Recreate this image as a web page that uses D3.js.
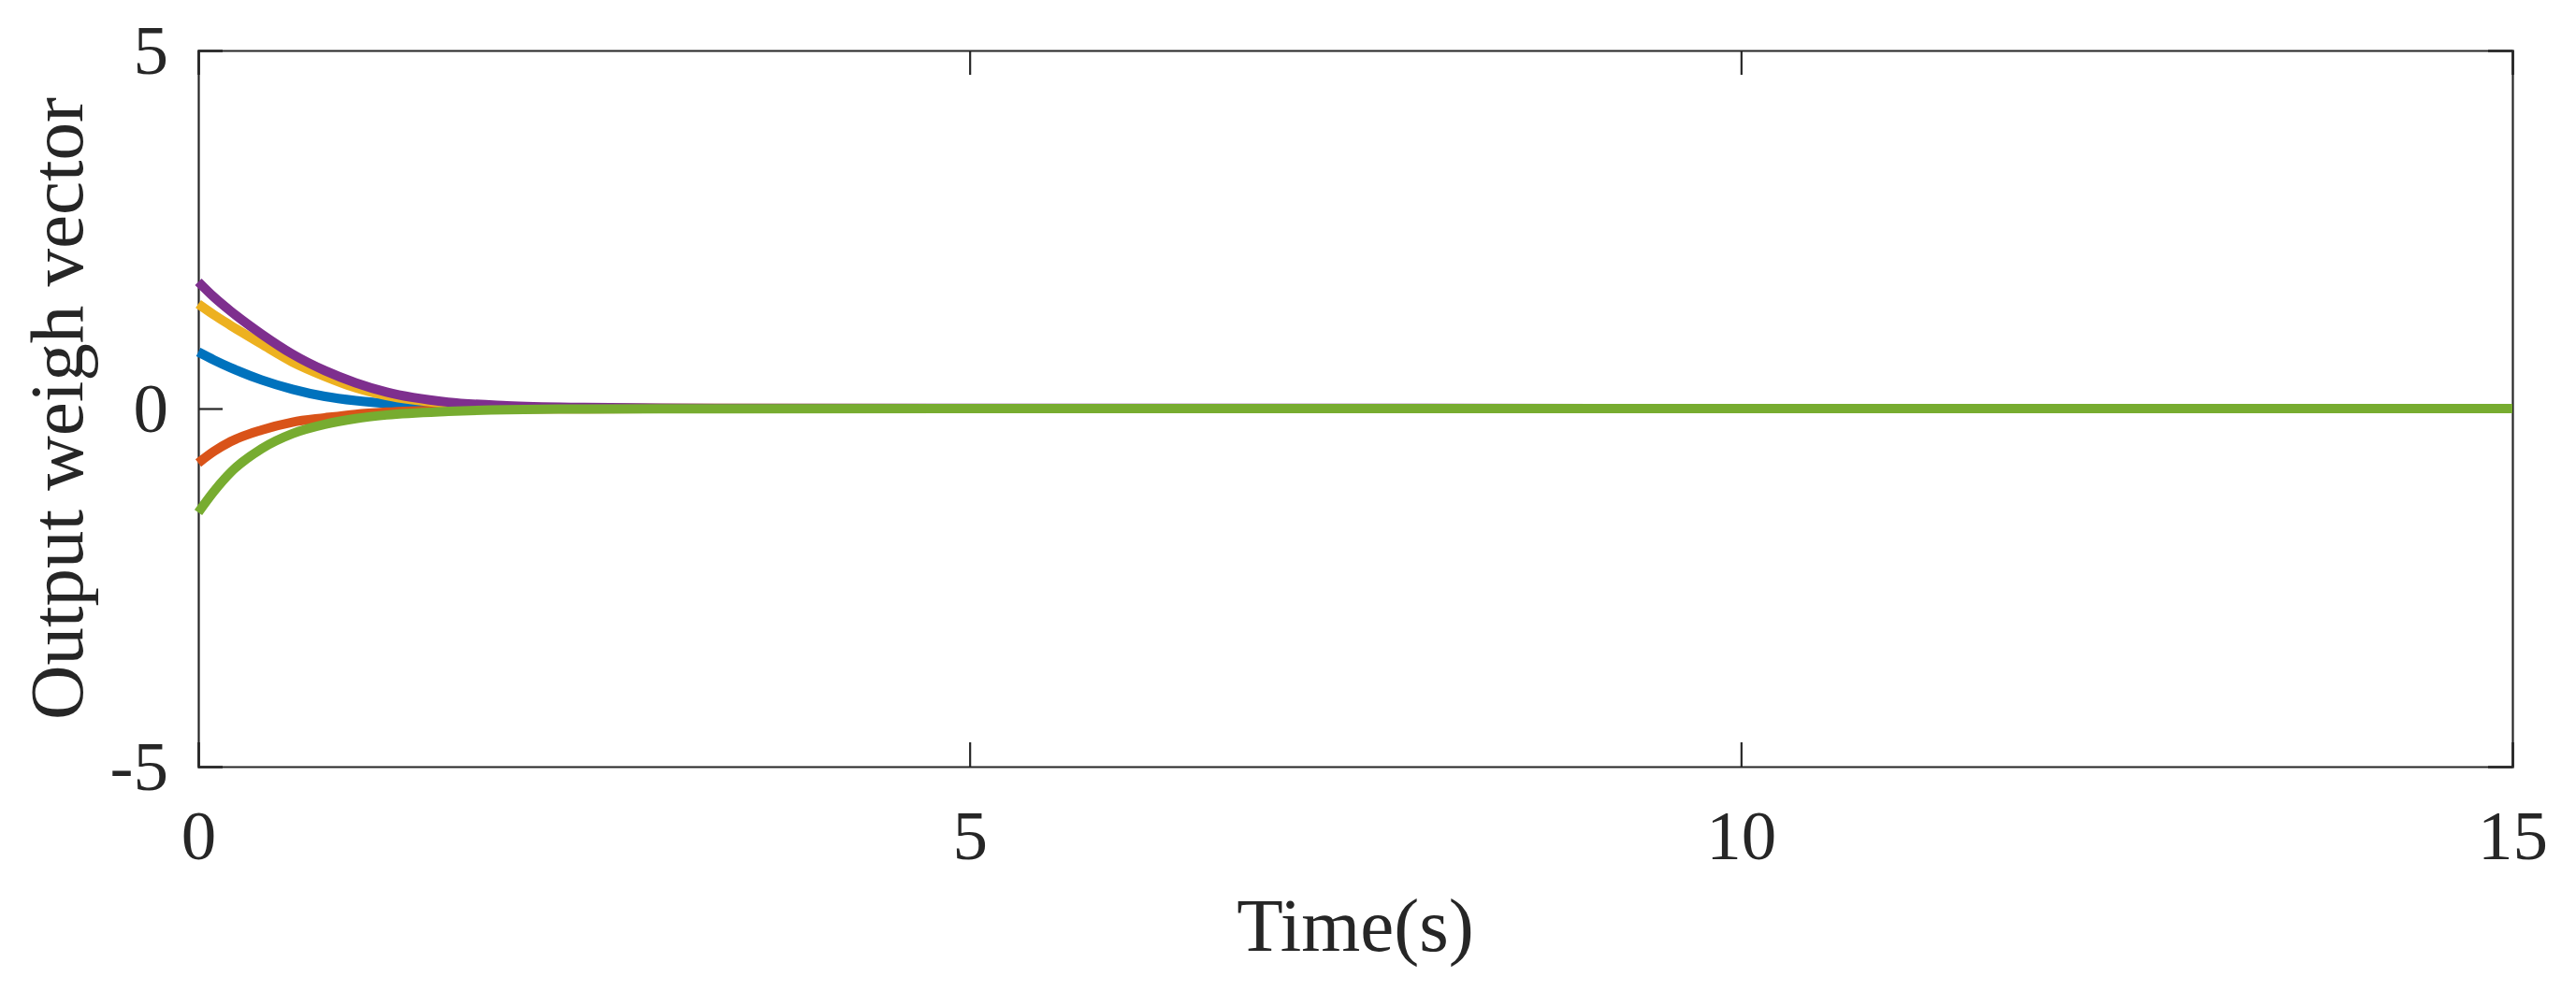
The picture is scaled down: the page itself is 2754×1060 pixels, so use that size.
<!DOCTYPE html>
<html>
<head>
<meta charset="utf-8">
<script src="https://cdn.jsdelivr.net/npm/d3@7"></script>
<style>
  body { margin: 0; background: #fff; }
  svg { display: block; font-family: "Liberation Serif", "Times New Roman", serif; }
</style>
</head>
<body>
<svg></svg>
<script>
const size = {w: 2754, h: 1060};
const margin = {t: 54, r: 68, b: 240, l: 212};
const svg = d3.select('svg').attr('width', size.w).attr('height', size.h);

const time = [0, 0.1, 0.21, 0.41, 0.61, 0.82, 1.02, 1.22, 1.62, 2.0, 2.5, 3.0, 15];
const w1 = [0.79, 0.68, 0.57, 0.40, 0.27, 0.17, 0.11, 0.07, 0.03, 0.012, 0.004, 0.001, 0];
const w2 = [-0.76, -0.60, -0.46, -0.30, -0.19, -0.13, -0.08, -0.05, -0.02, -0.008, -0.003, -0.001, 0];
const w3 = [1.46, 1.31, 1.16, 0.90, 0.65, 0.45, 0.29, 0.18, 0.07, 0.025, 0.008, 0.002, 0];
const w4 = [1.77, 1.56, 1.36, 1.04, 0.76, 0.53, 0.36, 0.23, 0.09, 0.04, 0.015, 0.005, 0];
const w5 = [-1.45, -1.16, -0.89, -0.56, -0.35, -0.22, -0.14, -0.09, -0.04, -0.015, -0.006, -0.002, 0];
const series = [w1, w2, w3, w4, w5];
const colors = ['#0072BD', '#D95319', '#EDB120', '#7E2F8E', '#77AC30'];

const xTicks = [0, 5, 10, 15];
const yTicks = [-5, 0, 5];

const x = d3.scaleLinear().domain([0, 15]).range([margin.l, size.w - margin.r]);
const y = d3.scaleLinear().domain([-5, 5]).range([size.h - margin.b, margin.t]);

const ink = '#262626';
const tick = 26;

// axes (box on, ticks inside)
const axesG = svg.append('g').classed('axes', true);

axesG.append('g')
    .attr('transform', `translate(0,${y(-5)})`)
    .call(d3.axisBottom(x).tickValues(xTicks).tickSize(-tick).tickPadding(46).tickFormat(d => String(d)));
axesG.append('g')
    .attr('transform', `translate(0,${y(5)})`)
    .call(d3.axisTop(x).tickValues(xTicks).tickSize(-tick).tickFormat(''));
axesG.append('g')
    .attr('transform', `translate(${x(0)},0)`)
    .call(d3.axisLeft(y).tickValues(yTicks).tickSize(-tick).tickPadding(32).tickFormat(d => String(d)));
axesG.append('g')
    .attr('transform', `translate(${x(15)},0)`)
    .call(d3.axisRight(y).tickValues(yTicks).tickSize(-tick).tickFormat(''));

axesG.selectAll('path.domain, .tick line')
    .attr('stroke', ink)
    .attr('stroke-width', 2.2);
axesG.selectAll('.tick text')
    .attr('fill', ink)
    .style('font-family', '"Liberation Serif", serif')
    .style('font-size', '75px');

// data lines
const line = d3.line()
    .x((d, i) => x(time[i]))
    .y(d => y(d))
    .curve(d3.curveMonotoneX);

svg.append('g').classed('lines', true)
    .selectAll('path')
    .data(series)
    .join('path')
    .attr('d', d => line(d))
    .attr('fill', 'none')
    .attr('stroke', (d, i) => colors[i])
    .attr('stroke-width', 10);

// labels
svg.append('text')
    .attr('x', (x(0) + x(15)) / 2)
    .attr('y', 1017)
    .attr('text-anchor', 'middle')
    .attr('fill', ink)
    .style('font-size', '81px')
    .text('Time(s)');

svg.append('text')
    .attr('transform', `translate(88,${y(0)}) rotate(-90)`)
    .attr('text-anchor', 'middle')
    .attr('fill', ink)
    .style('font-size', '81px')
    .text('Output weigh vector');
</script>
</body>
</html>
